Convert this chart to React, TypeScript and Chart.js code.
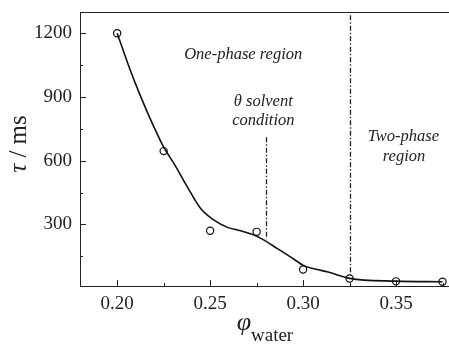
import React, { useEffect, useRef } from "react";
import { Chart, registerables } from "chart.js";

Chart.register(...registerables);

// Measured relaxation times
const measuredX = [0.2, 0.225, 0.25, 0.275, 0.3, 0.325, 0.35, 0.375];
const measuredTau = [1200, 645, 270, 265, 88, 45, 32, 30];

// Smooth guide curve through the data
const fitX = [0.2, 0.20625, 0.2125, 0.21875, 0.225, 0.2305, 0.2377, 0.2449, 0.2521, 0.2593, 0.2664, 0.2736, 0.279, 0.2862, 0.2934, 0.3004, 0.3069, 0.3134, 0.325, 0.35, 0.375];
const fitTau = [1200, 1045, 905, 778, 664, 587, 477, 375, 320, 286, 270, 250, 226, 186, 146, 106, 89, 76, 46, 33, 30];

// Axis ticks
const xMajorTicks = [0.2, 0.25, 0.3, 0.35];
const xMinorTicks = [0.225, 0.275, 0.325, 0.375];
const yMajorTicks = [300, 600, 900, 1200];
const yMinorTicks = [150, 450, 750, 1050];

// Reference lines
const thetaLineX = 0.28;
const thetaLineTau = [230, 710];
const boundaryLineX = 0.325;
const boundaryLineTau = [55, 1285];

const SERIF = "'Liberation Serif', 'Times New Roman', serif";
const INK = "#222";
const CANVAS_W = 457;

const decorPlugin = {
  id: "decor",
  beforeDatasetsDraw(chart: any) {
    const { ctx, scales } = chart;
    const xs = scales.x, ys = scales.y;
    ctx.save();
    ctx.strokeStyle = INK;
    ctx.lineWidth = 1.3;
    ctx.setLineDash([5, 2, 1.5, 2]);
    const drawV = (xv: number, r: number[]) => {
      const px = Math.round(xs.getPixelForValue(xv)) + 0.5;
      ctx.beginPath();
      ctx.moveTo(px, ys.getPixelForValue(r[1]));
      ctx.lineTo(px, ys.getPixelForValue(r[0]));
      ctx.stroke();
    };
    drawV(thetaLineX, thetaLineTau);
    drawV(boundaryLineX, boundaryLineTau);
    ctx.restore();
  },
  afterDraw(chart: any) {
    const { ctx, scales, chartArea } = chart;
    const xs = scales.x, ys = scales.y;
    ctx.save();
    ctx.strokeStyle = INK;
    ctx.lineWidth = 1;
    // top frame line
    ctx.beginPath();
    ctx.moveTo(chartArea.left, chartArea.top + 0.5);
    ctx.lineTo(chartArea.right, chartArea.top + 0.5);
    ctx.stroke();
    // inward ticks
    const tickX = (v: number, len: number) => {
      const px = Math.round(xs.getPixelForValue(v)) + 0.5;
      ctx.beginPath();
      ctx.moveTo(px, chartArea.bottom);
      ctx.lineTo(px, chartArea.bottom - len);
      ctx.stroke();
    };
    const tickY = (v: number, len: number) => {
      const py = Math.round(ys.getPixelForValue(v)) + 0.5;
      ctx.beginPath();
      ctx.moveTo(chartArea.left, py);
      ctx.lineTo(chartArea.left + len, py);
      ctx.stroke();
    };
    xMajorTicks.forEach((v) => tickX(v, 6));
    xMinorTicks.forEach((v) => tickX(v, 3));
    yMajorTicks.forEach((v) => tickY(v, 6));
    yMinorTicks.forEach((v) => tickY(v, 3));

    // annotations
    ctx.fillStyle = INK;
    ctx.textAlign = "center";
    ctx.textBaseline = "middle";
    ctx.font = `italic 16.5px ${SERIF}`;
    const txt = (s: string, xv: number, yv: number) =>
      ctx.fillText(s, xs.getPixelForValue(xv), ys.getPixelForValue(yv));
    txt("One-phase region", 0.2678, 1101);
    txt("\u03B8 solvent", 0.2786, 877);
    txt("condition", 0.2786, 787);
    txt("Two-phase", 0.354, 712);
    txt("region", 0.3543, 621);

    // y axis title
    ctx.save();
    ctx.translate(25.5, 144);
    ctx.rotate(-Math.PI / 2);
    ctx.textAlign = "left";
    ctx.textBaseline = "alphabetic";
    const fs = 25;
    ctx.font = `italic ${fs}px ${SERIF}`;
    const tau = "\u03C4";
    const rest = " / ms";
    const wTau = ctx.measureText(tau).width;
    ctx.font = `${fs}px ${SERIF}`;
    const wRest = ctx.measureText(rest).width;
    const start = -(wTau + wRest) / 2;
    ctx.font = `italic ${fs}px ${SERIF}`;
    ctx.fillText(tau, start, 0);
    ctx.font = `${fs}px ${SERIF}`;
    ctx.fillText(rest, start + wTau, 0);
    ctx.restore();

    // x axis title
    ctx.textAlign = "center";
    ctx.textBaseline = "alphabetic";
    ctx.font = `italic 26px ${SERIF}`;
    ctx.fillText("\u03C6", 244, 330);
    ctx.textAlign = "left";
    ctx.font = `19px ${SERIF}`;
    ctx.fillText("water", 251, 341);
    ctx.restore();
  },
};

export default function App() {
  const ref = useRef<HTMLCanvasElement | null>(null);
  useEffect(() => {
    if (!ref.current) return;
    const chart = new Chart(ref.current, {
      type: "line",
      data: {
        datasets: [
          {
            label: "fit",
            data: fitX.map((x, i) => ({ x, y: fitTau[i] })),
            borderColor: "#111",
            borderWidth: 1.6,
            pointRadius: 0,
            cubicInterpolationMode: "monotone",
            fill: false,
          },
          {
            label: "measured",
            data: measuredX.map((x, i) => ({ x, y: measuredTau[i] })),
            showLine: false,
            pointRadius: 3.6,
            pointBackgroundColor: "#fff",
            pointBorderColor: "#111",
            pointBorderWidth: 1.2,
            clip: false as any,
          },
        ],
      },
      options: {
        responsive: false,
        animation: false,
        devicePixelRatio: 1,
        layout: { padding: { top: 12, right: 0, left: 0, bottom: 0 } },
        plugins: { legend: { display: false }, tooltip: { enabled: false } },
        scales: {
          x: {
            type: "linear",
            min: 0.18,
            max: 0.38,
            afterBuildTicks: (s: any) => {
              s.ticks = xMajorTicks.map((v) => ({ value: v }));
            },
            afterFit: (s: any) => {
              s.height = 58;
              s.paddingLeft = 0;
              s.paddingRight = 0;
            },
            grid: { display: false, drawTicks: false },
            border: { display: true, color: INK, width: 1 },
            ticks: {
              padding: 7,
              color: INK,
              font: { family: SERIF, size: 19 },
              maxRotation: 0,
              callback: (v: any) => Number(v).toFixed(2),
            },
          },
          y: {
            type: "linear",
            min: 10,
            max: 1300,
            afterBuildTicks: (s: any) => {
              s.ticks = yMajorTicks.map((v) => ({ value: v }));
            },
            afterFit: (s: any) => {
              s.width = 80;
              s.paddingTop = 0;
              s.paddingBottom = 0;
            },
            grid: { display: false, drawTicks: false },
            border: { display: true, color: INK, width: 1 },
            ticks: {
              padding: 8,
              color: INK,
              font: { family: SERIF, size: 19 },
              callback: (v: any) => String(v),
            },
          },
        },
      },
      plugins: [decorPlugin],
    });
    return () => chart.destroy();
  }, []);
  return (
    <div style={{ position: "fixed", left: 0, top: 0, width: CANVAS_W, height: 344, background: "#fff" }}>
      <canvas ref={ref} width={CANVAS_W} height={344} style={{ display: "block" }} />
    </div>
  );
}
